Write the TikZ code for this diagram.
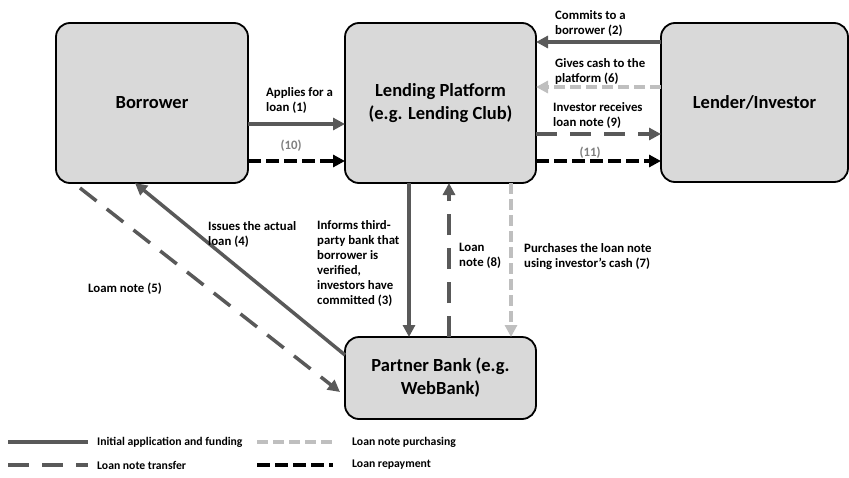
\documentclass[tikz,border=0pt]{standalone}
\usepackage{fontspec}
\setmainfont{Carlito}
\usetikzlibrary{arrows.meta,calc}

\definecolor{darkline}{HTML}{595959}
\definecolor{lightline}{HTML}{BFBFBF}
\definecolor{boxfill}{HTML}{D9D9D9}
\definecolor{numgray}{HTML}{7F7F7F}

\tikzset{
  party/.style={draw=black,line width=1.8pt,fill=boxfill,rounded corners=14pt,
    align=center,inner sep=0pt,outer sep=0pt,font=\fontsize{18.5}{23}\selectfont\bfseries},
  tag/.style={anchor=north west,inner sep=0pt,align=left,font=\fontsize{12.8}{15}\selectfont\bfseries},
  key/.style={anchor=west,inner sep=0pt,font=\fontsize{11.7}{14}\selectfont\bfseries},
  tip/.style={-{Triangle[length=12pt,width=12pt]}},
  funding/.style={line width=3.5pt,color=darkline},
  transfer/.style={line width=3.5pt,color=darkline,dash pattern=on 21pt off 13pt},
  purchase/.style={line width=3.5pt,color=lightline,dash pattern=on 11pt off 5pt},
  repay/.style={line width=3.5pt,color=black,dash pattern=on 13pt off 5pt}
}

\begin{document}
\begin{tikzpicture}[x=1pt,y=1pt]
\useasboundingbox (0,0) rectangle (849,-477);

\node[party,minimum width=192pt,minimum height=160pt] (borrower) at (152,-103) {Borrower};
\node[party,minimum width=191pt,minimum height=160pt] (platform) at (440.5,-103) {Lending Platform\\(e.g. Lending Club)};
\node[party,minimum width=187pt,minimum height=159pt] (lender) at (754.5,-102.5) {Lender/Investor};
\node[party,minimum width=191pt,minimum height=82pt] (bank) at (440.5,-378) {Partner Bank (e.g.\\WebBank)};

% borrower <-> platform
\draw[funding,tip] ([yshift=-21pt]borrower.east) -- ([yshift=-21pt]borrower.east -| platform.west);
\draw[repay,tip] ([yshift=-58pt]borrower.east) -- ([yshift=-58pt]borrower.east -| platform.west);

% lender <-> platform
\draw[funding,tip] ([yshift=61pt]platform.east -| lender.west) -- ([yshift=61pt]platform.east);
\draw[purchase,tip] ([yshift=16pt]platform.east -| lender.west) -- ([yshift=16pt]platform.east);
\draw[transfer,tip] ([yshift=-31pt]platform.east) -- ([yshift=-31pt]platform.east -| lender.west);
\draw[repay,tip] ([yshift=-58pt]platform.east) -- ([yshift=-58pt]platform.east -| lender.west);

% platform <-> bank
\draw[funding,tip] ([xshift=-31.5pt]platform.south) -- ([xshift=-31.5pt]bank.north);
\draw[transfer,tip] ([xshift=8.5pt]bank.north) -- ([xshift=8.5pt]platform.south);
\draw[purchase,tip] ([xshift=70.5pt]platform.south) -- ([xshift=70.5pt]bank.north);

% bank <-> borrower
\draw[funding,tip] ([yshift=23pt]bank.west) -- ([xshift=-17pt]borrower.south);
\draw[transfer,tip] ([shift={(-72pt,-5pt)}]borrower.south) -- ([shift={(-5pt,-14pt)}]bank.west);

\node[tag] (lbl1) at (266,-87) {Applies for a\\loan (1)};
\node[tag,anchor=center,text=numgray] (lbl10) at (291,-146) {(10)};
\node[tag] (lbl2) at (555,-10) {Commits to a\\borrower (2)};
\node[tag] (lbl6) at (555,-58) {Gives cash to the\\platform (6)};
\node[tag] (lbl9) at (553,-102) {Investor receives\\loan note (9)};
\node[tag,anchor=center,text=numgray] (lbl11) at (590,-153) {(11)};
\node[tag] (lbl4) at (208,-221) {Issues the actual\\loan (4)};
\node[tag] (lbl3) at (317,-220) {Informs third-\\party bank that\\borrower is\\verified,\\investors have\\committed (3)};
\node[tag] (lbl8) at (459,-243) {Loan\\note (8)};
\node[tag] (lbl7) at (524,-243) {Purchases the loan note\\using investor’s cash (7)};
\node[tag] (lbl5) at (88,-283) {Loam note (5)};

% legend
\draw[funding] (8,-442) -- (88,-442);
\node[key] (keyfund) at (97,-442) {Initial application and funding};
\draw[purchase] (257,-442) -- (333,-442);
\node[key] (keypurch) at (352,-442) {Loan note purchasing};
\draw[transfer] (8,-465) -- (88,-465);
\node[key] (keytrans) at (97,-465) {Loan note transfer};
\draw[repay] (257,-465) -- (333,-465);
\node[key] (keyrepay) at (352,-465) {Loan repayment};

\end{tikzpicture}
\end{document}
